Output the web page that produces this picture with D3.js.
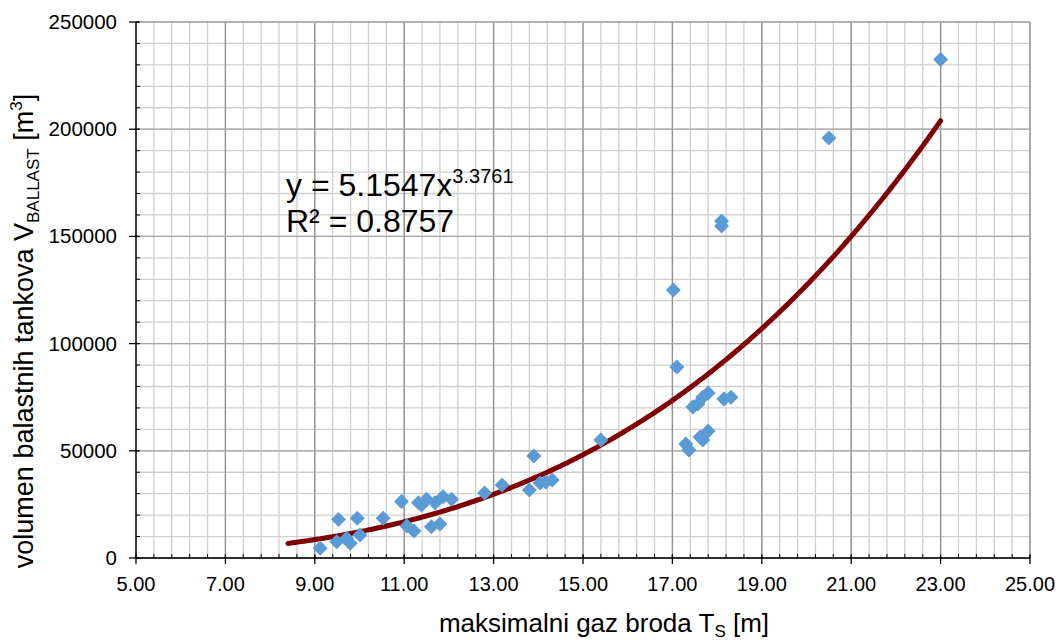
<!DOCTYPE html>
<html><head><meta charset="utf-8">
<script src="https://cdn.jsdelivr.net/npm/d3@7"></script>
<style>body{margin:0;background:#fff}svg{display:block;font-family:"Liberation Sans",Arial,sans-serif}</style>
</head><body><svg id="c" width="1061" height="643"></svg>
<script>
const draftX = [23.0,20.5,18.1,18.1,17.02,17.1,17.68,17.8,17.46,17.57,18.15,18.31,17.8,17.3,17.37,17.62,17.68,15.4,13.9,13.19,12.8,13.8,14.04,14.17,14.31,10.94,11.32,11.39,11.5,11.69,11.87,12.06,9.53,9.95,10.53,11.06,11.22,11.61,11.8,10.01,9.79,9.49,9.71,9.12];
const ballastY = [232500,195900,157200,154800,125000,89100,75000,77000,70400,71800,74200,75000,59200,53200,50400,56400,55000,55000,47600,34000,30300,31700,35000,35400,36400,26300,25800,24700,27400,25800,28600,27400,18000,18500,18500,14900,12600,14600,15900,10700,6900,7600,9200,4500];
const xTicks = [5,7,9,11,13,15,17,19,21,23,25];
const yTicks = [0,50000,100000,150000,200000,250000];
const trendA = 5.1547, trendB = 3.3761, trendR2 = 0.8757, trendRange = [8.4, 23.0];

const svg = d3.select("#c");
const L=136, R=1030, T=22, B=558;
const x = d3.scaleLinear().domain([5,25]).range([L,R]);
const y = d3.scaleLinear().domain([0,250000]).range([B,T]);
const g = svg.append("g");

const xMinor = d3.range(5,25.001,0.4), yMinor = d3.range(0,250001,10000);
g.selectAll(".xm").data(xMinor).enter().append("line")
 .attr("x1",d=>x(d)).attr("x2",d=>x(d)).attr("y1",T).attr("y2",B).attr("stroke","#cfcfcf").attr("stroke-width",1.3);
g.selectAll(".ym").data(yMinor).enter().append("line")
 .attr("y1",d=>y(d)).attr("y2",d=>y(d)).attr("x1",L).attr("x2",R).attr("stroke","#cfcfcf").attr("stroke-width",1.3);
g.selectAll(".xM").data(xTicks).enter().append("line")
 .attr("x1",d=>x(d)).attr("x2",d=>x(d)).attr("y1",T).attr("y2",B).attr("stroke","#8f8f8f").attr("stroke-width",1.3);
g.selectAll(".yM").data(yTicks).enter().append("line")
 .attr("y1",d=>y(d)).attr("y2",d=>y(d)).attr("x1",L).attr("x2",R).attr("stroke","#a6a6a6").attr("stroke-width",1.3);

g.append("line").attr("x1",L).attr("x2",R).attr("y1",B).attr("y2",B).attr("stroke","#000").attr("stroke-width",1.3);
g.append("line").attr("x1",L).attr("x2",L).attr("y1",T).attr("y2",B).attr("stroke","#000").attr("stroke-width",1.3);
g.selectAll(".xmt").data(xMinor).enter().append("line")
 .attr("x1",d=>x(d)).attr("x2",d=>x(d)).attr("y1",B-4).attr("y2",B).attr("stroke","#000");
g.selectAll(".xMt").data(xTicks).enter().append("line")
 .attr("x1",d=>x(d)).attr("x2",d=>x(d)).attr("y1",B-3).attr("y2",B+6).attr("stroke","#000").attr("stroke-width",1.3);
g.selectAll(".ymt").data(yMinor).enter().append("line")
 .attr("y1",d=>y(d)).attr("y2",d=>y(d)).attr("x1",L).attr("x2",L+4).attr("stroke","#000");
g.selectAll(".yMt").data(yTicks).enter().append("line")
 .attr("y1",d=>y(d)).attr("y2",d=>y(d)).attr("x1",L-7).attr("x2",L+3).attr("stroke","#000").attr("stroke-width",1.3);

g.selectAll(".xl").data(xTicks).enter().append("text")
 .attr("x",d=>x(d)).attr("y",B+33).attr("text-anchor","middle").attr("font-size",20).attr("fill","#000")
 .text(d=>d.toFixed(2));
g.selectAll(".yl").data(yTicks).enter().append("text")
 .attr("x",L-19).attr("y",d=>y(d)+7).attr("text-anchor","end").attr("font-size",20.5).attr("fill","#000")
 .text(d=>d);

const pts = d3.range(trendRange[0], trendRange[1]+0.0001, 0.05).map(v=>[v, trendA*Math.pow(v,trendB)]);
g.append("path").attr("d", d3.line().x(d=>x(d[0])).y(d=>y(d[1]))(pts))
 .attr("fill","none").attr("stroke","#7f0000").attr("stroke-width",5).attr("stroke-linecap","round");

const h = 7.5;
g.selectAll(".p").data(draftX).enter().append("path")
 .attr("d",`M0,${-h}L${h},0L0,${h}L${-h},0Z`)
 .attr("transform",(d,i)=>`translate(${x(d)},${y(ballastY[i])})`)
 .attr("fill","#5b9bd5");

const eq = g.append("text").attr("x",286).attr("y",196).attr("font-size",32).attr("fill","#000");
eq.append("tspan").text("y = "+trendA+"x");
eq.append("tspan").attr("dy",-13).attr("font-size",20).text(trendB);
g.append("text").attr("x",286).attr("y",232).attr("font-size",32).attr("fill","#000").text("R² = "+trendR2);

const xt = g.append("text").attr("x",604).attr("y",632).attr("text-anchor","middle").attr("font-size",26).attr("fill","#000");
xt.append("tspan").text("maksimalni gaz broda T");
xt.append("tspan").attr("dy",5).attr("font-size",17).text("S");
xt.append("tspan").attr("dy",-5).text(" [m]");
const yt = g.append("text").attr("transform","translate(33,331) rotate(-90)").attr("text-anchor","middle").attr("font-size",27).attr("fill","#000");
yt.append("tspan").text("volumen balastnih tankova V");
yt.append("tspan").attr("dy",6).attr("font-size",17).text("BALLAST");
yt.append("tspan").attr("dy",-6).text(" [m");
yt.append("tspan").attr("dy",-11).attr("font-size",17).text("3");
yt.append("tspan").attr("dy",11).text("]");
</script></body></html>
